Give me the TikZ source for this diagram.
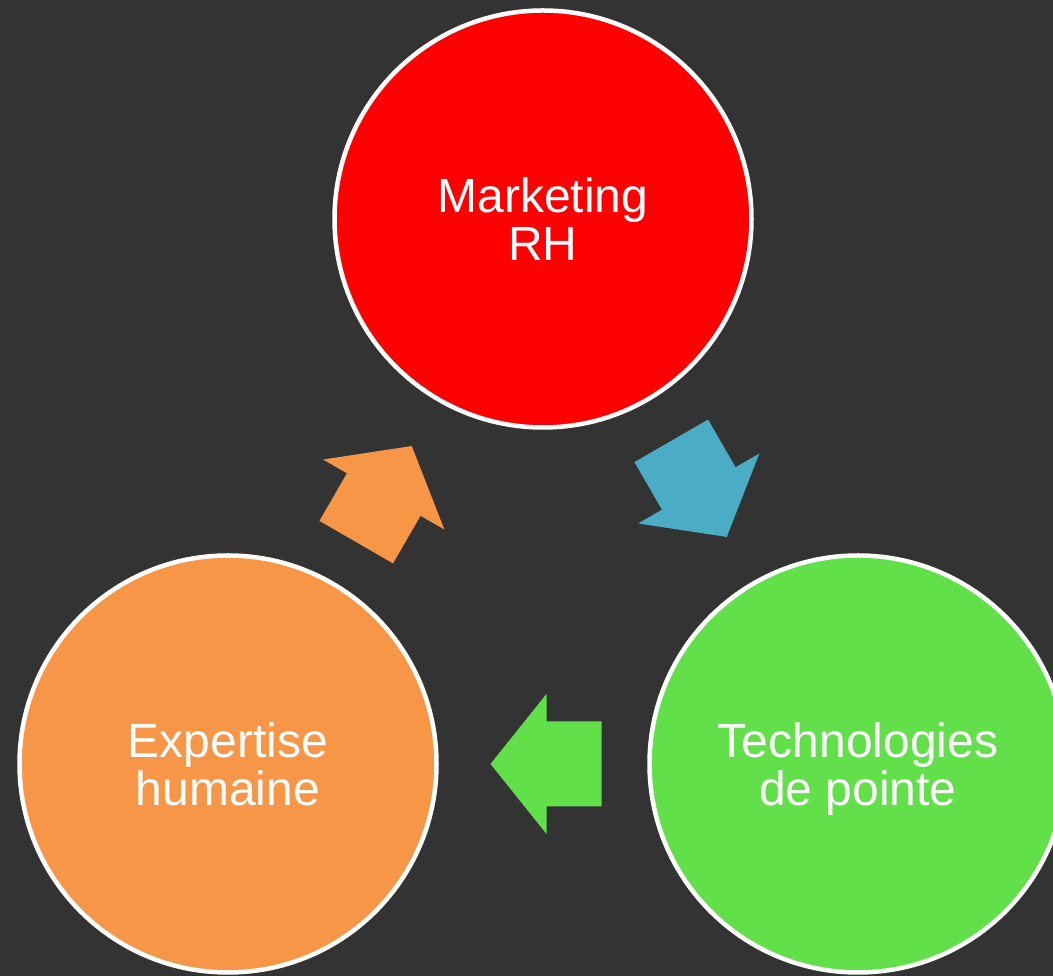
\documentclass[tikz,border=0pt]{standalone}
\usepackage{fontspec}
\setmainfont{Liberation Sans}
\usetikzlibrary{calc}
\definecolor{bg}{HTML}{333333}
\definecolor{redfill}{HTML}{FF0000}
\definecolor{orangefill}{HTML}{F79646}
\definecolor{greenfill}{HTML}{62E04A}
\definecolor{bluefill}{HTML}{4BACC6}
\tikzset{
  pics/blockarrow/.style={code={
    \fill[#1] (-58.5,-42.5) -- (-3.5,-42.5) -- (-3.5,-70) -- (52.5,0) -- (-3.5,70) -- (-3.5,42.5) -- (-58.5,42.5) -- cycle;
  }}
}
\begin{document}
\begin{tikzpicture}[x=1pt,y=1pt,
  topic/.style={circle,draw=white,line width=4.5pt,minimum size=417pt,inner sep=0pt,
    text=white,text depth=0pt,align=center,font=\fontsize{48}{48}\selectfont}]
\clip (0,0) rectangle (1053,976);
\fill[bg] (0,0) rectangle (1053,976);
\node[topic,fill=redfill] (M) at (543,757) {Marketing\\RH};
\node[topic,fill=greenfill] (T) at (858,212) {Technologies\\de pointe};
\node[topic,fill=orangefill] (E) at (228,212) {Expertise\\humaine};
\pic[rotate=-60] at ($(M)!0.5!(T)$) {blockarrow=bluefill};
\pic[rotate=180] at ($(T)!0.5!(E)$) {blockarrow=greenfill};
\pic[rotate=60] at ($(E)!0.5!(M)$) {blockarrow=orangefill};
\end{tikzpicture}
\end{document}
